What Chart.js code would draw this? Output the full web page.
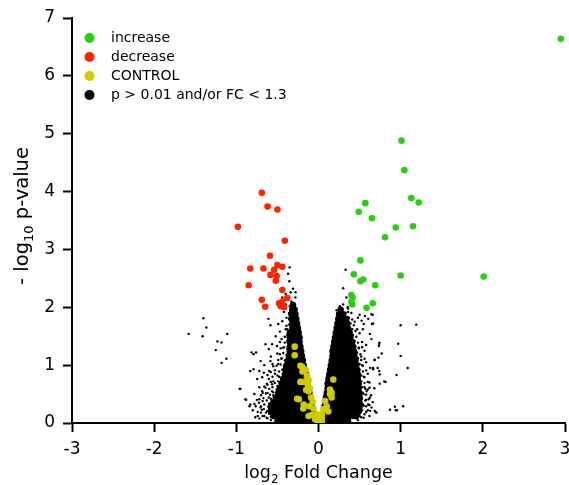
<!DOCTYPE html>
<html lang="en">
<head>
  <meta charset="UTF-8">
  <title>Volcano plot</title>
  <style>
    body { margin: 0; background: #fff; }
    .chartBox { width: 569px; height: 485px; }
  </style>
</head>
<body>
  <div class="chartBox">
    <canvas id="myChart" width="569" height="485"></canvas>
  </div>

<script src="https://cdn.jsdelivr.net/npm/chart.js"></script>
<script>
  // [log2 fold change, -log10 p]
  const increase = [
    [1.01, 4.88], [1.045, 4.37], [1.13, 3.89], [1.22, 3.81], [0.57, 3.80], [0.49, 3.65],
    [0.65, 3.54], [0.94, 3.38], [1.15, 3.40], [0.81, 3.21], [0.51, 2.81], [0.43, 2.57],
    [0.51, 2.45], [0.545, 2.48], [1.00, 2.55], [2.01, 2.53], [0.69, 2.38], [0.40, 2.21],
    [0.415, 2.17], [0.40, 2.09], [0.41, 2.05], [0.66, 2.07], [0.585, 1.99], [2.95, 6.64]
  ];
  const decrease = [
    [-0.69, 3.98], [-0.62, 3.74], [-0.50, 3.69], [-0.98, 3.39], [-0.41, 3.15], [-0.59, 2.89],
    [-0.83, 2.67], [-0.67, 2.67], [-0.50, 2.73], [-0.44, 2.70], [-0.54, 2.65], [-0.585, 2.56],
    [-0.51, 2.54], [-0.52, 2.46], [-0.85, 2.38], [-0.44, 2.30], [-0.69, 2.13], [-0.38, 2.16],
    [-0.65, 2.01], [-0.48, 2.07], [-0.44, 2.10], [-0.42, 2.00], [-0.46, 2.02]
  ];
  const control = [
    [-0.29, 1.32], [-0.29, 1.17], [-0.22, 0.99], [-0.20, 0.97], [-0.195, 0.89], [-0.155, 0.92],
    [-0.14, 0.81], [-0.12, 0.74], [-0.18, 0.71], [-0.22, 0.71], [-0.13, 0.66], [-0.105, 0.60],
    [-0.15, 0.57], [-0.12, 0.55], [-0.24, 0.41], [-0.26, 0.42], [-0.18, 0.32], [-0.09, 0.44],
    [-0.07, 0.37], [-0.11, 0.29], [-0.06, 0.25], [-0.185, 0.25], [-0.08, 0.14], [-0.12, 0.12],
    [-0.04, 0.06], [-0.02, 0.15], [0.00, 0.02], [0.01, 0.08], [0.04, 0.03],
    [0.18, 0.75], [0.14, 0.58], [0.16, 0.52], [0.14, 0.50], [0.16, 0.44], [0.08, 0.38],
    [0.10, 0.29], [0.06, 0.24], [0.12, 0.20], [0.04, 0.15], [0.04, 0.09], [0.02, 0.09]
  ];
  // genes that miss the cut, loose points around the cloud
  const other = [
    [-1.40, 1.81], [-1.365, 1.65], [-1.58, 1.54], [-1.41, 1.50], [-1.11, 1.54], [-1.23, 1.41],
    [-1.18, 1.39], [-1.25, 1.26], [-1.12, 1.11], [-1.18, 1.04], [-0.96, 0.59], [-0.88, 0.40],
    [-0.61, 1.80], [-0.585, 1.69], [-0.49, 1.71], [-0.44, 1.76], [-0.645, 1.36], [-0.565, 1.36],
    [-0.505, 1.33], [-0.605, 1.28], [-0.815, 1.22], [-0.76, 1.22], [-0.79, 1.19], [-0.705, 1.07],
    [-0.585, 1.07], [-0.83, 0.90], [-0.79, 0.93], [-0.72, 0.90], [-0.665, 0.87], [-0.685, 0.79],
    [-0.745, 0.76], [-0.605, 0.76], [-0.565, 0.67], [-0.95, 0.59], [-0.89, 0.41], [-0.83, 0.32],
    [-0.765, 0.29], [-0.705, 0.27], [-0.665, 0.24], [-0.625, 0.21], [-0.725, 0.35], [-0.685, 0.55],
    [-0.645, 0.61], [-0.565, 0.55], [-0.605, 0.44], [-0.44, 2.17], [-0.40, 2.23], [-0.34, 2.26],
    [-0.35, 2.69], [-0.37, 2.58], [-0.355, 2.45], [-0.31, 2.32], [-0.28, 2.26], [-0.28, 2.17],
    [-0.84, 0.29], [-0.60, 0.16], [-0.535, 0.13],
    [-0.52, 1.50], [-0.47, 1.58], [-0.50, 1.20], [-0.45, 1.12], [-0.55, 0.98], [-0.49, 1.02],
    [-0.60, 0.90], [-0.53, 0.85], [-0.48, 0.80], [-0.62, 0.66], [-0.55, 0.72], [-0.50, 0.64],
    [-0.70, 0.48], [-0.62, 0.52], [-0.55, 0.48], [-0.75, 0.40], [-0.68, 0.38], [-0.60, 0.34],
    [-0.70, 0.18], [-0.66, 0.12], [-0.62, 0.08], [-0.58, 0.05], [-0.42, 1.92], [-0.40, 2.05],
    [-0.45, 1.45], [-0.40, 1.62], [-0.43, 1.30], [-0.47, 1.40], [-0.58, 1.15], [-0.66, 1.00],
    [-0.72, 0.62], [-0.78, 0.50], [-0.80, 0.22], [-0.74, 0.12],
    [1.00, 1.69], [1.19, 1.70], [0.97, 1.37], [1.00, 1.16], [1.085, 0.95], [0.95, 0.83],
    [1.03, 0.29], [0.93, 0.28], [0.94, 0.22], [0.87, 0.23],
    [0.30, 2.33], [0.50, 1.87], [0.565, 1.85], [0.645, 1.88], [0.525, 1.77], [0.55, 1.71],
    [0.65, 1.71], [0.625, 1.54], [0.645, 1.45], [0.74, 1.39], [0.735, 1.33], [0.77, 1.20],
    [0.685, 1.09], [0.73, 1.13], [0.665, 0.95], [0.72, 0.95], [0.74, 0.90], [0.815, 0.71],
    [0.745, 0.68], [0.625, 0.44], [0.605, 0.32], [0.645, 0.27], [0.705, 0.18], [0.685, 0.21],
    [0.66, 1.87], [0.665, 1.72], [0.74, 1.37], [0.68, 1.09], [0.745, 0.84], [0.665, 0.93],
    [0.80, 0.72], [0.585, 0.55], [0.33, 2.65], [0.34, 2.17], [0.355, 2.00], [0.605, 1.80],
    [0.695, 0.19], [0.955, 0.22],
    [0.50, 1.55], [0.47, 1.62], [0.44, 1.75], [0.40, 1.90], [0.53, 1.40], [0.49, 1.30],
    [0.56, 1.25], [0.52, 1.15], [0.58, 1.05], [0.53, 1.00], [0.60, 0.85], [0.55, 0.80],
    [0.62, 0.70], [0.56, 0.62], [0.60, 0.58], [0.55, 0.50], [0.64, 0.48], [0.58, 0.40],
    [0.55, 0.30], [0.60, 0.22], [0.56, 0.15], [0.52, 0.10], [0.48, 0.05], [0.62, 0.12],
    [0.66, 0.36], [0.68, 0.60], [0.63, 0.95], [0.58, 1.35], [0.54, 1.62], [0.48, 1.82],
    [0.36, 1.98], [0.30, 2.05], [0.26, 2.02], [0.22, 1.95]
  ];
  // thick fringe just outside the packed middle
  const fringe = [
    [-0.58, 0.11], [-0.63, 0.09], [-0.68, 0.12], [-0.72, 0.08], [-0.77, 0.10],
    [-0.60, 0.21], [-0.64, 0.18], [-0.69, 0.23], [-0.74, 0.19],
    [-0.57, 0.31], [-0.61, 0.28], [-0.66, 0.32], [-0.70, 0.29], [-0.78, 0.33],
    [-0.54, 0.40], [-0.58, 0.42], [-0.63, 0.39], [-0.67, 0.43], [-0.72, 0.41],
    [-0.51, 0.50], [-0.55, 0.53], [-0.59, 0.49], [-0.64, 0.51], [-0.68, 0.52],
    [-0.47, 0.60], [-0.51, 0.58], [-0.56, 0.62], [-0.60, 0.59], [-0.66, 0.63],
    [-0.45, 0.70], [-0.49, 0.72], [-0.53, 0.69], [-0.58, 0.71], [-0.63, 0.68],
    [-0.42, 0.80], [-0.46, 0.78], [-0.50, 0.82], [-0.56, 0.80], [-0.62, 0.83],
    [-0.40, 0.90], [-0.44, 0.92], [-0.48, 0.89], [-0.53, 0.91], [-0.58, 0.88],
    [-0.39, 1.00], [-0.42, 0.98], [-0.46, 1.01], [-0.51, 0.99], [-0.56, 1.02],
    [-0.37, 1.10], [-0.41, 1.08], [-0.45, 1.11], [-0.49, 1.09],
    [-0.36, 1.20], [-0.39, 1.18], [-0.43, 1.21], [-0.47, 1.19],
    [-0.35, 1.30], [-0.38, 1.28], [-0.42, 1.31], [-0.46, 1.29],
    [-0.35, 1.40], [-0.38, 1.42], [-0.41, 1.39],
    [-0.35, 1.50], [-0.38, 1.52], [-0.41, 1.49],
    [-0.35, 1.60], [-0.38, 1.62], [-0.36, 1.70], [-0.39, 1.68],
    [-0.36, 1.80], [-0.39, 1.82], [-0.36, 1.90], [-0.35, 2.02], [-0.33, 2.10],
    [0.41, 0.10], [0.46, 0.08], [0.50, 0.12], [0.55, 0.09],
    [0.49, 0.20], [0.53, 0.22], [0.58, 0.19], [0.63, 0.21],
    [0.50, 0.30], [0.54, 0.32], [0.58, 0.29], [0.62, 0.31],
    [0.50, 0.40], [0.53, 0.42], [0.57, 0.39], [0.61, 0.41],
    [0.50, 0.50], [0.54, 0.52], [0.58, 0.49],
    [0.49, 0.60], [0.53, 0.62], [0.57, 0.59], [0.62, 0.61],
    [0.49, 0.70], [0.52, 0.72], [0.56, 0.69], [0.60, 0.71],
    [0.48, 0.80], [0.52, 0.82], [0.56, 0.79],
    [0.47, 0.90], [0.50, 0.92], [0.54, 0.89], [0.58, 0.91],
    [0.46, 1.00], [0.50, 1.02], [0.54, 0.99],
    [0.45, 1.10], [0.48, 1.12], [0.52, 1.09], [0.56, 1.11],
    [0.43, 1.20], [0.47, 1.22], [0.51, 1.19],
    [0.42, 1.30], [0.45, 1.32], [0.49, 1.29], [0.53, 1.31],
    [0.41, 1.40], [0.44, 1.42], [0.48, 1.39],
    [0.39, 1.50], [0.42, 1.52], [0.46, 1.49],
    [0.37, 1.60], [0.41, 1.62], [0.45, 1.59],
    [0.36, 1.70], [0.39, 1.72], [0.43, 1.69],
    [0.34, 1.80], [0.37, 1.82], [0.41, 1.79],
    [0.33, 1.90], [0.36, 1.92]
  ];
  // the packed middle of the cloud: [-log10 p, [log2 FC, ...]] per row
  const coreLeft = [
    [0.04, [-0.50, -0.45, -0.40, -0.35, -0.30, -0.25, -0.20, -0.15, -0.10, -0.06]],
    [0.12, [-0.55, -0.49, -0.44, -0.39, -0.34, -0.29, -0.24, -0.19, -0.14, -0.10, -0.06]],
    [0.20, [-0.58, -0.53, -0.48, -0.43, -0.38, -0.33, -0.28, -0.23, -0.18, -0.13, -0.10, -0.07]],
    [0.28, [-0.58, -0.53, -0.48, -0.43, -0.38, -0.33, -0.28, -0.23, -0.18, -0.13, -0.08]],
    [0.36, [-0.55, -0.50, -0.45, -0.40, -0.35, -0.30, -0.25, -0.20, -0.15, -0.12, -0.09]],
    [0.44, [-0.52, -0.47, -0.42, -0.37, -0.32, -0.27, -0.22, -0.17, -0.13, -0.10]],
    [0.52, [-0.49, -0.44, -0.39, -0.34, -0.29, -0.24, -0.19, -0.15, -0.11]],
    [0.60, [-0.47, -0.42, -0.37, -0.32, -0.27, -0.22, -0.17, -0.12]],
    [0.68, [-0.45, -0.40, -0.35, -0.30, -0.25, -0.20, -0.16, -0.13]],
    [0.76, [-0.43, -0.38, -0.33, -0.28, -0.23, -0.18, -0.14]],
    [0.84, [-0.41, -0.36, -0.31, -0.26, -0.21, -0.17, -0.15]],
    [0.92, [-0.40, -0.35, -0.30, -0.25, -0.21, -0.17]],
    [1.00, [-0.39, -0.34, -0.29, -0.24, -0.20, -0.18]],
    [1.08, [-0.37, -0.33, -0.28, -0.23, -0.19]],
    [1.16, [-0.36, -0.32, -0.27, -0.23, -0.20]],
    [1.24, [-0.35, -0.31, -0.26, -0.21]],
    [1.32, [-0.35, -0.31, -0.26, -0.22]],
    [1.40, [-0.35, -0.31, -0.27, -0.23]],
    [1.48, [-0.35, -0.31, -0.27, -0.23]],
    [1.56, [-0.35, -0.31, -0.27, -0.24]],
    [1.64, [-0.32, -0.28, -0.25]],
    [1.72, [-0.32, -0.29, -0.26]],
    [1.80, [-0.33, -0.30, -0.27]],
    [1.88, [-0.33, -0.30, -0.28]],
    [1.96, [-0.32, -0.29]],
    [2.04, [-0.31]]
  ];
  const coreRight = [
    [0.04, [0.06, 0.11, 0.16, 0.21, 0.26, 0.31, 0.36]],
    [0.12, [0.06, 0.11, 0.16, 0.21, 0.26, 0.31, 0.36, 0.42, 0.46]],
    [0.20, [0.07, 0.12, 0.17, 0.22, 0.27, 0.32, 0.37, 0.41, 0.45, 0.49]],
    [0.28, [0.07, 0.12, 0.17, 0.22, 0.27, 0.32, 0.37, 0.42, 0.46, 0.50]],
    [0.36, [0.08, 0.13, 0.18, 0.23, 0.28, 0.33, 0.38, 0.42, 0.46, 0.50]],
    [0.44, [0.09, 0.14, 0.19, 0.24, 0.29, 0.34, 0.39, 0.43, 0.46, 0.50]],
    [0.52, [0.10, 0.15, 0.20, 0.25, 0.30, 0.35, 0.40, 0.43, 0.46, 0.50]],
    [0.60, [0.11, 0.16, 0.21, 0.26, 0.31, 0.36, 0.40, 0.45, 0.49]],
    [0.68, [0.11, 0.16, 0.21, 0.26, 0.31, 0.36, 0.41, 0.45, 0.49]],
    [0.76, [0.12, 0.17, 0.22, 0.27, 0.32, 0.37, 0.41, 0.44, 0.48]],
    [0.84, [0.13, 0.18, 0.23, 0.28, 0.33, 0.38, 0.41, 0.44, 0.48]],
    [0.92, [0.14, 0.19, 0.24, 0.29, 0.34, 0.39, 0.43, 0.47]],
    [1.00, [0.15, 0.20, 0.25, 0.30, 0.35, 0.39, 0.42, 0.46]],
    [1.08, [0.16, 0.21, 0.26, 0.31, 0.36, 0.41, 0.45]],
    [1.16, [0.17, 0.22, 0.27, 0.32, 0.36, 0.40, 0.44]],
    [1.24, [0.17, 0.22, 0.27, 0.32, 0.36, 0.39, 0.43]],
    [1.32, [0.18, 0.23, 0.28, 0.33, 0.38, 0.42]],
    [1.40, [0.19, 0.24, 0.29, 0.33, 0.37, 0.41]],
    [1.48, [0.20, 0.25, 0.30, 0.35, 0.39]],
    [1.56, [0.21, 0.26, 0.30, 0.34, 0.38]],
    [1.64, [0.22, 0.27, 0.30, 0.33, 0.36]],
    [1.72, [0.23, 0.27, 0.32, 0.35]],
    [1.80, [0.24, 0.28, 0.31, 0.34]],
    [1.88, [0.25, 0.28, 0.30]],
    [1.96, [0.27]]
  ];

  const xTicks = [-3, -2, -1, 0, 1, 2, 3];
  const yTicks = [0, 1, 2, 3, 4, 5, 6, 7];

  const FONT = "'DejaVu Sans', sans-serif";
  const GREEN = 'rgb(44, 204, 20)';
  const RED = 'rgb(255, 36, 0)';
  const YELLOW = 'rgb(204, 204, 0)';

  const pts = arr => arr.map(([x, y]) => ({ x, y }));
  const rows = arr => arr.flatMap(([y, xs]) => xs.map(x => ({ x, y })));

  // legend in the top left corner of the plot
  const legendBox = {
    id: 'legendBox',
    afterDraw(chart) {
      const ctx = chart.ctx;
      const items = chart.data.datasets.filter(d => d.inLegend !== false);
      ctx.save();
      ctx.font = '14px ' + FONT;
      ctx.textBaseline = 'middle';
      items.forEach((d, i) => {
        const y = 38 + i * 19;
        ctx.fillStyle = d.backgroundColor;
        ctx.beginPath();
        ctx.arc(89.5, y, 5, 0, Math.PI * 2);
        ctx.fill();
        ctx.fillStyle = '#000';
        ctx.fillText(d.label, 111, y);
      });
      ctx.restore();
    }
  };

  // text runs with a subscript, centred on cx
  function drawRuns(ctx, runs, cx, baseY) {
    let total = 0;
    runs.forEach(r => { ctx.font = r.size + 'px ' + FONT; r.w = ctx.measureText(r.t).width; total += r.w; });
    let x = cx - total / 2;
    runs.forEach(r => {
      ctx.font = r.size + 'px ' + FONT;
      ctx.fillText(r.t, x, baseY + (r.dy || 0));
      x += r.w;
    });
  }

  const axisTitles = {
    id: 'axisTitles',
    afterDraw(chart) {
      const ctx = chart.ctx;
      const area = chart.chartArea;
      ctx.save();
      ctx.fillStyle = '#000';
      ctx.textBaseline = 'alphabetic';
      drawRuns(ctx, [
        { t: 'log', size: 17.5 },
        { t: '2', size: 12, dy: 5 },
        { t: ' Fold Change', size: 17.5 }
      ], (area.left + area.right) / 2, 478);

      ctx.translate(28, 216);
      ctx.rotate(-Math.PI / 2);
      drawRuns(ctx, [
        { t: '- log', size: 19.5 },
        { t: '10', size: 13, dy: 5 },
        { t: ' p-value', size: 19.5 }
      ], 0, 0);
      ctx.restore();
    }
  };

  const axisStyle = {
    border: { color: '#000', width: 2 },
    grid: { drawOnChartArea: false, drawTicks: true, tickLength: 9, tickWidth: 2, tickColor: '#000' },
  };

  new Chart(document.getElementById('myChart'), {
    type: 'scatter',
    data: {
      datasets: [
        { label: 'increase', data: pts(increase), backgroundColor: GREEN, pointRadius: 3.3, borderWidth: 0 },
        { label: 'decrease', data: pts(decrease), backgroundColor: RED, pointRadius: 3.3, borderWidth: 0 },
        { label: 'CONTROL', data: pts(control), backgroundColor: YELLOW, pointRadius: 3.3, borderWidth: 0 },
        { label: 'p > 0.01 and/or FC < 1.3', data: pts(other.concat(fringe)), backgroundColor: '#000', pointRadius: 1.2, borderWidth: 0 },
        { label: 'core', inLegend: false, data: rows(coreLeft).concat(rows(coreRight)), backgroundColor: '#000', pointRadius: 3.2, borderWidth: 0 }
      ]
    },
    options: {
      responsive: false,
      animation: false,
      devicePixelRatio: 1,
      layout: { padding: { top: 18, right: 2.5, left: 0, bottom: 0 } },
      plugins: { legend: { display: false }, tooltip: { enabled: false } },
      scales: {
        x: {
          ...axisStyle,
          min: -3, max: 3,
          afterBuildTicks: s => { s.ticks = xTicks.map(v => ({ value: v })); },
          afterFit: s => { s.height = 62; s.paddingLeft = 0; s.paddingRight = 0; },
          ticks: { color: '#000', padding: 7, maxRotation: 0, font: { family: FONT, size: 17 } }
        },
        y: {
          ...axisStyle,
          min: 0, max: 7,
          afterBuildTicks: s => { s.ticks = yTicks.map(v => ({ value: v })); },
          afterFit: s => { s.width = 72; s.paddingTop = 0; s.paddingBottom = 0; },
          ticks: { color: '#000', padding: 8, font: { family: FONT, size: 17 } }
        }
      }
    },
    plugins: [legendBox, axisTitles]
  });
</script>
</body>
</html>
